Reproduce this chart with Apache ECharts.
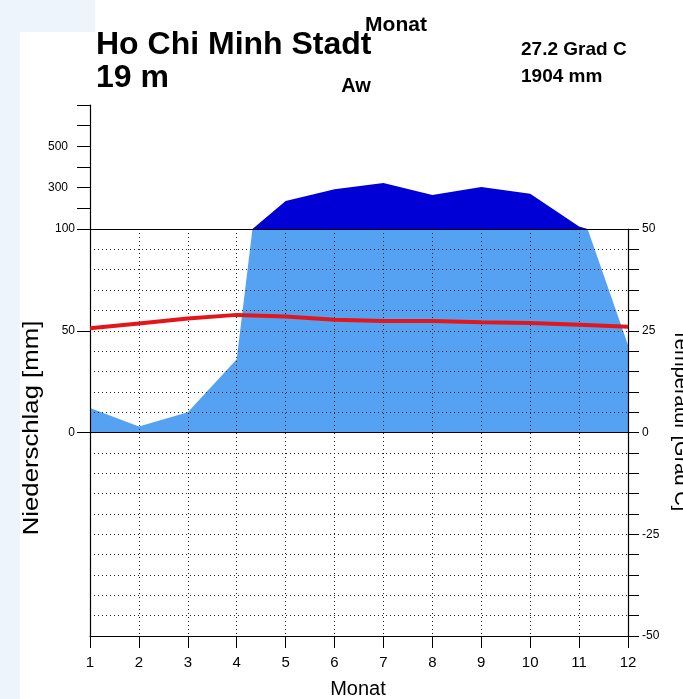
<!DOCTYPE html>
<html><head><meta charset="utf-8">
<script src="https://cdn.jsdelivr.net/npm/echarts@6/dist/echarts.min.js"></script>
<style>html,body{margin:0;padding:0;background:#fff}#c{width:683px;height:699px}</style>
</head><body><div id="c"></div>
<script>
// ---- data ----
const months = [1, 2, 3, 4, 5, 6, 7, 8, 9, 10, 11, 12];
const precipitation = [12, 3, 10, 36, 235, 292, 323, 265, 303, 270, 112, 43]; // mm
const temperature = [25.6, 26.8, 28.0, 28.9, 28.5, 27.7, 27.4, 27.4, 27.1, 26.9, 26.5, 26.0]; // °C
const precipLowerLabels = [0, 50, 100];
const precipUpperLabels = [300, 500];
const precipUpperTicks = [100, 200, 300, 400, 500, 600, 700];
const tempLabels = [-50, -25, 0, 25, 50];
const stationName = 'Ho Chi Minh Stadt';
const elevation = '19 m';
const climateClass = 'Aw';
const meanTemp = '27.2 Grad C';
const annualPrecip = '1904 mm';

const FONT = 'Liberation Sans, Arial, sans-serif';
const precipPairs = months.map((m, i) => [m, precipitation[i]]);
const tempPairs = months.map((m, i) => [m, temperature[i]]);
const dotted = { type: [1, 3], color: '#222', width: 1 };

const chart = echarts.init(document.getElementById('c'), null, { renderer: 'canvas' });
chart.setOption({
  animation: false,
  backgroundColor: '#fff',
  grid: [
    { left: 90, right: 55, top: 105, height: 124 },
    { left: 90, right: 55, top: 229, height: 407 }
  ],
  xAxis: [
    { type: 'value', gridIndex: 0, min: 1, max: 12, interval: 1, z: 4,
      axisLine: { onZero: false, lineStyle: { color: '#000', width: 1.2 } },
      axisTick: { show: false }, axisLabel: { show: false }, splitLine: { show: false } },
    { type: 'value', gridIndex: 1, min: 1, max: 12, interval: 1, z: 4,
      axisLine: { onZero: false, lineStyle: { color: '#000', width: 1.2 } },
      axisTick: { length: 12, lineStyle: { color: '#000' } },
      axisLabel: { color: '#000', fontSize: 15, fontFamily: FONT, margin: 19 },
      splitLine: { show: true, lineStyle: dotted } }
  ],
  yAxis: [
    { type: 'value', gridIndex: 0, min: 100, max: 700, interval: 100, position: 'left', z: 4,
      axisLine: { show: true, onZero: false, lineStyle: { color: '#000', width: 1.2 } },
      axisTick: { show: true, length: 13, customValues: precipUpperTicks, lineStyle: { color: '#000' } },
      axisLabel: { color: '#000', fontSize: 12, fontFamily: FONT, margin: 22, customValues: precipUpperLabels },
      splitLine: { show: false } },
    { type: 'value', gridIndex: 1, min: -100, max: 100, interval: 50, position: 'left', z: 4,
      axisLine: { show: true, onZero: false, lineStyle: { color: '#000', width: 1.2 } },
      axisTick: { show: true, length: 13, customValues: precipLowerLabels, lineStyle: { color: '#000' } },
      axisLabel: { color: '#000', fontSize: 12, fontFamily: FONT, margin: 15, customValues: precipLowerLabels },
      splitLine: { show: false } },
    { type: 'value', gridIndex: 1, min: -50, max: 50, interval: 5, position: 'right', z: 4,
      axisLine: { show: true, onZero: false, lineStyle: { color: '#000', width: 1.2 } },
      axisTick: { show: true, length: 11, lineStyle: { color: '#000' } },
      axisLabel: { color: '#000', fontSize: 12, fontFamily: FONT, margin: 14, customValues: tempLabels },
      splitLine: { show: true, lineStyle: dotted } }
  ],
  series: [
    { name: 'Niederschlag', type: 'line', xAxisIndex: 1, yAxisIndex: 1, data: precipPairs,
      showSymbol: false, clip: true, z: 1, lineStyle: { width: 0 },
      areaStyle: { color: '#55a2f3', opacity: 1 } },
    { name: 'Niederschlag >100', type: 'line', xAxisIndex: 0, yAxisIndex: 0, data: precipPairs,
      showSymbol: false, clip: true, z: 1, lineStyle: { width: 0 },
      areaStyle: { color: '#0000d6', opacity: 1, origin: 'start' } },
    { name: 'Temperatur', type: 'line', xAxisIndex: 1, yAxisIndex: 2, data: tempPairs,
      showSymbol: false, z: 6, lineStyle: { color: '#e3161b', width: 4 },
      markLine: { silent: true, symbol: 'none', label: { show: false },
        lineStyle: { color: '#000', type: 'solid', width: 1.2 }, data: [{ yAxis: 0 }] } }
  ],
  graphic: [
    { type: 'rect', z: -10, shape: { x: 0, y: 0, width: 20, height: 699 }, style: { fill: '#edf4fc' } },
    { type: 'rect', z: -10, shape: { x: 0, y: 0, width: 95, height: 32 }, style: { fill: '#edf4fc' } },
    { type: 'text', x: 96, y: 45, style: { text: stationName, font: 'bold 32px ' + FONT, fill: '#000', verticalAlign: 'middle' } },
    { type: 'text', x: 96, y: 78, style: { text: elevation, font: 'bold 32px ' + FONT, fill: '#000', verticalAlign: 'middle' } },
    { type: 'text', x: 396, y: 25, style: { text: 'Monat', font: 'bold 21px ' + FONT, fill: '#000', align: 'center', verticalAlign: 'middle' } },
    { type: 'text', x: 356, y: 86, style: { text: climateClass, font: 'bold 20px ' + FONT, fill: '#000', align: 'center', verticalAlign: 'middle' } },
    { type: 'text', x: 521, y: 50, style: { text: meanTemp, font: 'bold 19px ' + FONT, fill: '#000', verticalAlign: 'middle' } },
    { type: 'text', x: 521, y: 77, style: { text: annualPrecip, font: 'bold 19px ' + FONT, fill: '#000', verticalAlign: 'middle' } },
    { type: 'text', x: 32, y: 428, rotation: Math.PI / 2, scaleX: 1.17, style: { text: 'Niederschlag [mm]', font: '22px ' + FONT, fill: '#000', align: 'center', verticalAlign: 'middle' } },
    { type: 'text', x: 681, y: 420, rotation: -Math.PI / 2, style: { text: 'Temperatur [Grad C]', font: '20px ' + FONT, fill: '#000', align: 'center', verticalAlign: 'middle' } },
    { type: 'text', x: 358, y: 689, style: { text: 'Monat', font: '20px ' + FONT, fill: '#000', align: 'center', verticalAlign: 'middle' } }
  ]
});
</script></body></html>
